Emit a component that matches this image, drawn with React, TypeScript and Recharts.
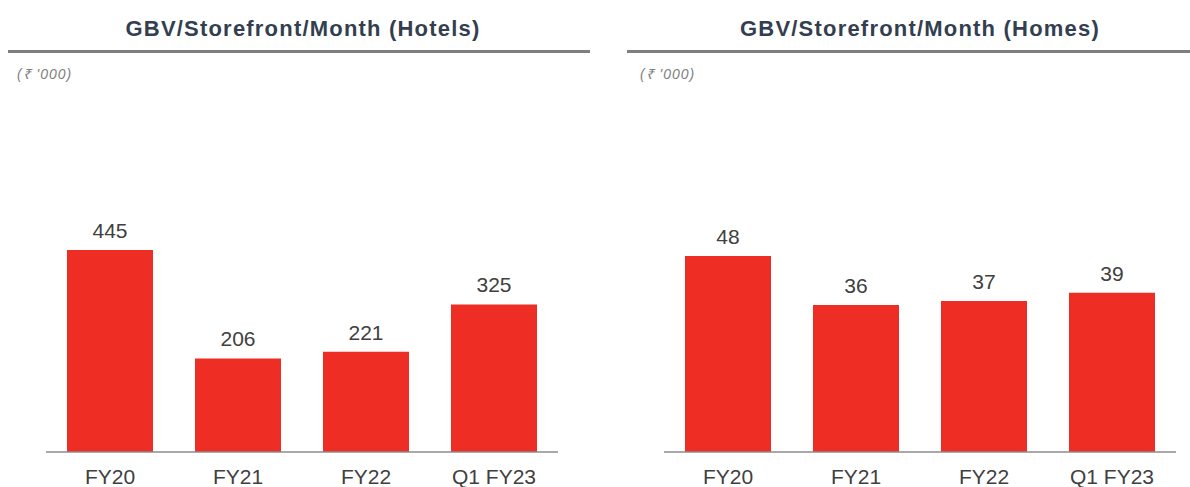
import { BarChart, Bar, XAxis, YAxis, LabelList } from "recharts";

const categories = ["FY20", "FY21", "FY22", "Q1 FY23"];
const hotelsValues = [445, 206, 221, 325];
const homesValues = [48, 36, 37, 39];

const hotelsData = categories.map((name, i) => ({ name, value: hotelsValues[i] }));
const homesData = categories.map((name, i) => ({ name, value: homesValues[i] }));

const RED = "#ee2e24";
const FONT = "'Liberation Sans', Arial, sans-serif";

type PanelProps = {
  title: string;
  data: { name: string; value: number }[];
  max: number;
  left: number;
  width: number;
  lineLeft: number;
  lineWidth: number;
  titleCenter: number;
  unitLeft: number;
  margin: { top: number; right: number; bottom: number; left: number };
};

function Panel(p: PanelProps) {
  return (
    <>
      <div
        style={{
          position: "absolute",
          left: p.titleCenter - 250,
          width: 500,
          top: 16,
          textAlign: "center",
          fontFamily: FONT,
          fontWeight: "bold",
          fontSize: 22,
          color: "#333f50",
          letterSpacing: 1.2,
        }}
      >
        {p.title}
      </div>
      <div
        style={{
          position: "absolute",
          left: p.lineLeft,
          width: p.lineWidth,
          top: 50,
          height: 3,
          background: "#7f7f7f",
        }}
      />
      <div
        style={{
          position: "absolute",
          left: p.unitLeft,
          top: 64,
          fontFamily: FONT,
          fontStyle: "italic",
          fontSize: 14,
          letterSpacing: 1,
          color: "#808080",
        }}
      >
        (₹ '000)
      </div>
      <div style={{ position: "absolute", left: p.left, top: 0 }}>
        <BarChart width={p.width} height={487} data={p.data} margin={p.margin} barCategoryGap={21}>
          <YAxis hide domain={[0, p.max]} />
          <XAxis
            dataKey="name"
            tickLine={false}
            tickMargin={11}
            axisLine={{ stroke: "#8c8c8c", strokeWidth: 1.5 }}
            tick={{ fill: "#404040", fontSize: 21, fontFamily: FONT }}
            interval={0}
          />
          <Bar dataKey="value" fill={RED} isAnimationActive={false}>
            <LabelList
              dataKey="value"
              position="top"
              offset={12}
              style={{ fill: "#404040", fontSize: 21, fontFamily: FONT }}
            />
          </Bar>
        </BarChart>
      </div>
    </>
  );
}

export default function App() {
  return (
    <div style={{ position: "absolute", left: 0, top: 0, width: 1190, height: 487, background: "#fff" }}>
      <Panel
        title="GBV/Storefront/Month (Hotels)"
        data={hotelsData}
        max={500}
        left={0}
        width={600}
        lineLeft={8}
        lineWidth={582}
        titleCenter={303}
        unitLeft={17}
        margin={{ top: 225, right: 42, bottom: 5, left: 46 }}
      />
      <Panel
        title="GBV/Storefront/Month (Homes)"
        data={homesData}
        max={60}
        left={600}
        width={590}
        lineLeft={627}
        lineWidth={563}
        titleCenter={920}
        unitLeft={640}
        margin={{ top: 207, right: 14, bottom: 5, left: 64 }}
      />
    </div>
  );
}
